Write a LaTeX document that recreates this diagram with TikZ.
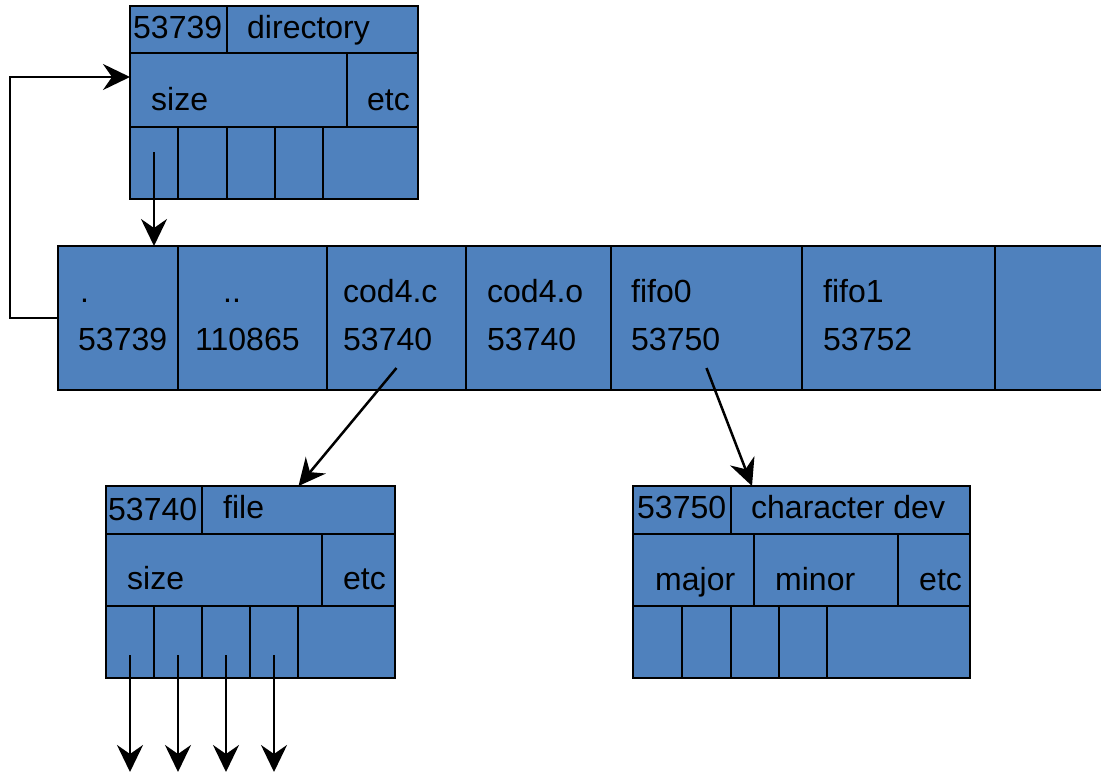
\documentclass[tikz,border=0pt]{standalone}
\usepackage{fontspec}
\setmainfont{Liberation Sans}
\usetikzlibrary{arrows.meta}
\definecolor{cellblue}{RGB}{79,129,189}
\tikzset{
  cell/.style={draw=black, fill=cellblue, line width=2.8pt, inner sep=0pt, outer sep=0pt, rectangle},
  lbl/.style={anchor=base west, inner sep=0pt, font=\fontsize{32}{37}\selectfont},
  arr/.style={line width=2.5pt, -{Stealth[length=27pt,width=26pt,inset=9pt]}},
}
\newcommand\cel[5]{%
  \pgfmathsetmacro\cw{#4-#2}\pgfmathsetmacro\ch{#5-#3}%
  \node[cell, minimum width=\cw pt, minimum height=\ch pt, anchor=north west] (#1) at (#2,#3) {};}
\begin{document}
\begin{tikzpicture}[x=1pt,y=-1pt]
\useasboundingbox (0,0) rectangle (1101,774);
\clip (0,0) rectangle (1101,774);
% top directory inode
\cel{tbid}{130}{6}{227}{53}
\cel{tbtype}{227}{6}{418}{53}
\cel{tbsize}{130}{53}{347}{127}
\cel{tbetc}{347}{53}{418}{127}
\cel{tbsa}{130}{127}{178}{199}
\cel{tbsb}{178}{127}{227}{199}
\cel{tbsc}{227}{127}{275}{199}
\cel{tbsd}{275}{127}{323}{199}
\cel{tbse}{323}{127}{418}{199}
\node[lbl] (t1) at (133,38) {53739};
\node[lbl] (t2) at (247,38) {directory};
\node[lbl] (t3) at (151,110) {size};
\node[lbl] (t4) at (367,110) {etc};
% directory data block
\cel{bra}{58}{246}{178}{390}
\cel{brb}{178}{246}{327}{390}
\cel{brc}{327}{246}{466}{390}
\cel{brd}{466}{246}{611}{390}
\cel{bre}{611}{246}{802}{390}
\cel{brf}{802}{246}{995}{390}
\cel{brg}{995}{246}{1115}{390}
\node[lbl] (d1) at (80,302) {.};
\node[lbl] (d2) at (78,350) {53739};
\node[lbl] (d3) at (223,302) {..};
\node[lbl] (d4) at (195,350) {110865};
\node[lbl] (d5) at (343,302) {cod4.c};
\node[lbl] (d6) at (343,350) {53740};
\node[lbl] (d7) at (487,302) {cod4.o};
\node[lbl] (d8) at (487,350) {53740};
\node[lbl] (d9) at (631,302) {fifo0};
\node[lbl] (d10) at (631,350) {53750};
\node[lbl] (d11) at (823,302) {fifo1};
\node[lbl] (d12) at (823,350) {53752};
% file inode
\cel{blid}{106}{486}{202}{534}
\cel{bltype}{202}{486}{395}{534}
\cel{blsize}{106}{534}{322}{606}
\cel{bletc}{322}{534}{395}{606}
\cel{blsa}{106}{606}{154}{678}
\cel{blsb}{154}{606}{202}{678}
\cel{blsc}{202}{606}{250}{678}
\cel{blsd}{250}{606}{298}{678}
\cel{blse}{298}{606}{395}{678}
\node[lbl] (f1) at (108,520) {53740};
\node[lbl] (f2) at (223,518) {file};
\node[lbl] (f3) at (127,589) {size};
\node[lbl] (f4) at (343,589) {etc};
% character device inode
\cel{crid}{633}{486}{731}{534}
\cel{crtype}{731}{486}{970}{534}
\cel{crmaj}{633}{534}{754}{606}
\cel{crmin}{754}{534}{898}{606}
\cel{cretc}{898}{534}{970}{606}
\cel{crsa}{633}{606}{682}{678}
\cel{crsb}{682}{606}{731}{678}
\cel{crsc}{731}{606}{779}{678}
\cel{crsd}{779}{606}{827}{678}
\cel{crse}{827}{606}{970}{678}
\node[lbl] (c1) at (637,518) {53750};
\node[lbl] (c2) at (751,518) {character dev};
\node[lbl] (c3) at (655,590) {major};
\node[lbl] (c4) at (775,590) {minor};
\node[lbl] (c5) at (919,590) {etc};
% connectors
\coordinate (bot) at (0,772);
\draw[arr] (bra.west) -- ++(-48,0) |- ([yshift=13pt]tbsize.west);
\draw[arr] ([yshift=11pt]tbsa.center) -- (tbsa.center |- bra.north);
\draw[arr] ([yshift=-50pt]brc.center) -- (bltype.north);
\draw[arr] ([yshift=-50pt]bre.center) -- ([xshift=21pt]crtype.north west);
\draw[arr] ([yshift=-13pt]blsa.center) -- (blsa.center |- bot);
\draw[arr] ([yshift=-13pt]blsb.center) -- (blsb.center |- bot);
\draw[arr] ([yshift=-13pt]blsc.center) -- (blsc.center |- bot);
\draw[arr] ([yshift=-13pt]blsd.center) -- (blsd.center |- bot);
\end{tikzpicture}
\end{document}
